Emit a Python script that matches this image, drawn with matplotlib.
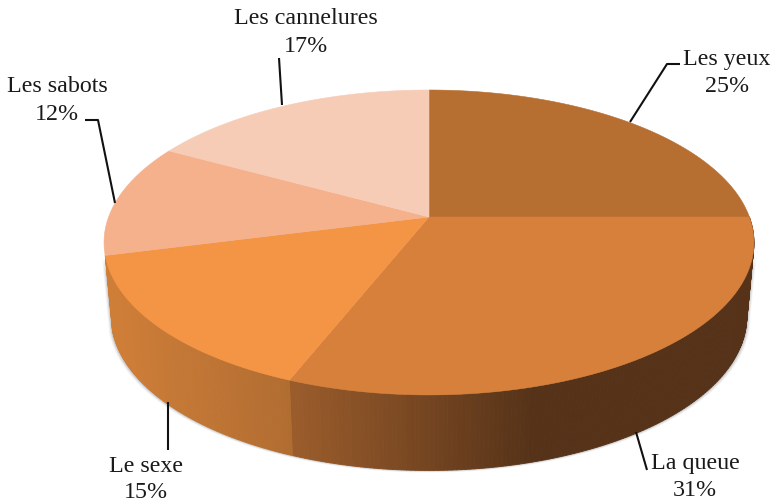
import numpy as np
import matplotlib
matplotlib.use("Agg")
import matplotlib.pyplot as plt
from matplotlib.collections import PolyCollection
from matplotlib.colors import to_rgb

categories = ["Les yeux", "La queue", "Le sexe", "Les sabots", "Les cannelures"]
values = [25, 31, 15, 12, 17]
pct_labels = ["25%", "31%", "15%", "12%", "17%"]
top_colors = ["#B66E31", "#D6803B", "#F49545", "#F4B18C", "#F6CCB6"]

plt.rcParams["font.family"] = ["Liberation Serif", "DejaVu Serif"]

fig = plt.figure(figsize=(7.75, 5.04), dpi=100)
ax = fig.add_axes([0, 0, 1, 1])
ax.set_xlim(0, 775)
ax.set_ylim(504, 0)
ax.axis("off")

# perspective projection of the pie disc
CX, CY = 429.0, 217.0
K = 0.167
A, B = 148.2, 320.4
ELL_CY = 242.0


def top_pt(theta):
    """theta in degrees, clockwise from 12 o'clock."""
    t = np.radians(theta)
    X, Y = np.sin(t), np.cos(t)
    w = 1 + K * Y
    return CX + B * X / w, CY - A * Y / w


def bottom_pt(theta):
    x, y = top_pt(theta)
    return CX + (x - CX) * 0.978, ELL_CY + (y - ELL_CY) * 1.01 + 74.0


def lerp(c1, c2, u):
    a, b = np.array(to_rgb(c1)), np.array(to_rgb(c2))
    return tuple(a + (b - a) * np.clip(u, 0, 1))


cum = np.concatenate([[0], np.cumsum(values)]) / np.sum(values) * 360.0

# soft shadow under the rim
full = np.linspace(100, 255, 200)
for grow, alpha in [(3.5, 0.06), (2.6, 0.09), (1.8, 0.12), (1.0, 0.16)]:
    bx, by = bottom_pt(full)
    tx, ty = top_pt(full)
    sx = np.concatenate([tx, bx[::-1]])
    sy = np.concatenate([ty, by[::-1]])
    sx = CX + (sx - CX) * (1 + grow / 320.0)
    sy = sy + grow * 0.6
    ax.fill(sx, sy, color="#606060", alpha=alpha, lw=0, zorder=1)

# side walls
wall_specs = [(cum[1], cum[2]), (cum[2], cum[3])]


def wall_color(i, x):
    if i == 0:
        return lerp("#9A5C2B", "#553218", (x - 295) / 240.0)
    return lerp("#B06C30", "#CF7E38", (295 - x) / 180.0)


for i, (t0, t1) in enumerate(wall_specs):
    th = np.linspace(t0, t1, 161)
    polys, cols = [], []
    for a0, a1 in zip(th[:-1], th[1:]):
        p = [top_pt(a0), top_pt(a1), bottom_pt(a1), bottom_pt(a0)]
        polys.append(p)
        cols.append(wall_color(i, 0.5 * (p[0][0] + p[1][0])))
    ax.add_collection(PolyCollection(polys, facecolors=cols, edgecolors=cols,
                                     linewidths=0.6, zorder=2))

# top face
for c, t0, t1 in zip(top_colors, cum[:-1], cum[1:]):
    th = np.linspace(t0, t1, 120)
    x, y = top_pt(th)
    ax.fill(np.r_[CX, x], np.r_[CY, y], color=c, lw=0.4, zorder=3)

# leader lines
leaders = [
    ([680, 667, 630], [64, 64, 122]),
    ([636, 647], [432, 470]),
    ([168, 168], [402, 450]),
    ([85, 98, 115], [120, 120, 203]),
    ([279, 282], [58, 105]),
]
for lx, ly in leaders:
    ax.plot(lx, ly, color="#111111", lw=1.5, solid_capstyle="butt", zorder=4)

# labels
label_pos = [(727, 60, 86), (695, 464, 491), (146, 467, 493), (57, 87, 114), (306, 19, 46)]
for name, pct, (x, y1, y2) in zip(categories, pct_labels, label_pos):
    ax.text(x, y1, name, ha="center", va="center", fontsize=17.3, color="#1a1a1a", zorder=5)
    ax.text(x, y2, pct, ha="center", va="center", fontsize=17.3, color="#1a1a1a", zorder=5)

fig.savefig("out.png", dpi=100, facecolor="white")
